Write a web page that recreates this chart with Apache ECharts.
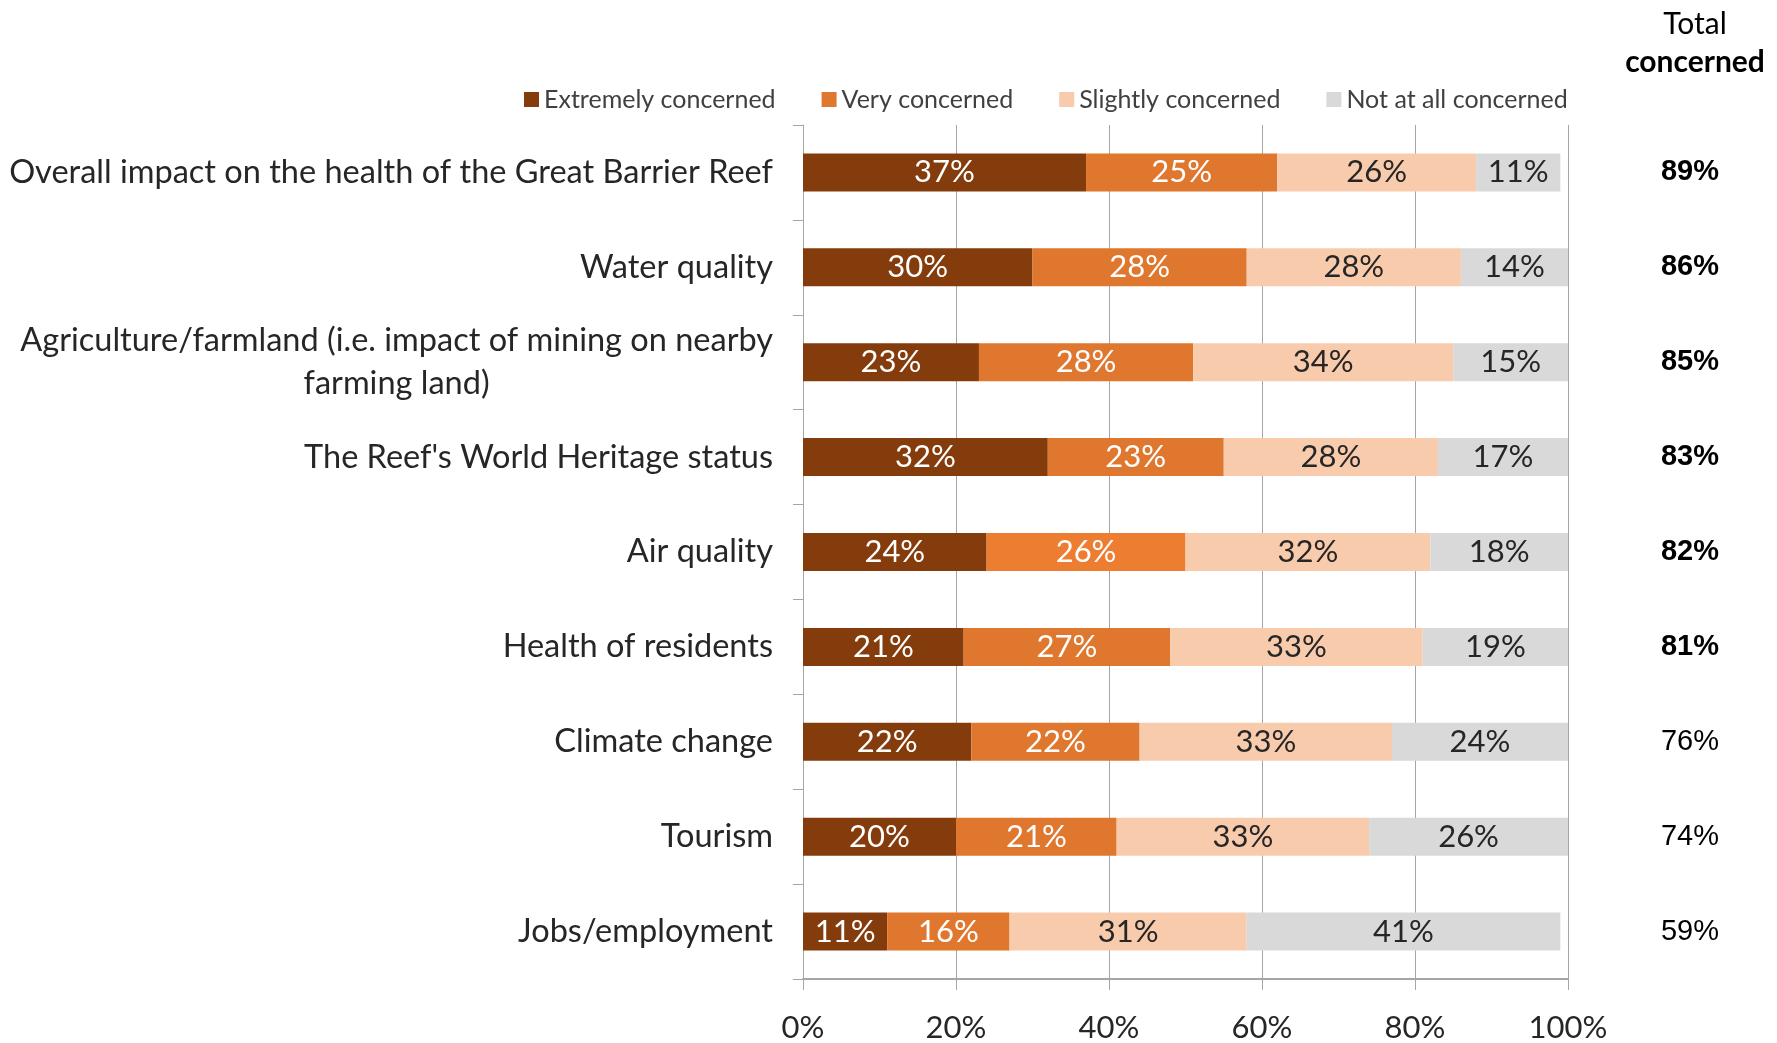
<!DOCTYPE html>
<html>
<head>
<meta charset="utf-8">
<title>Concern about impacts of mining</title>
<script src="https://cdn.jsdelivr.net/npm/echarts@6/dist/echarts.min.js"></script>
<style>
  html, body { margin: 0; padding: 0; background: #ffffff; }
  #chart { width: 1777px; height: 1043px; }
</style>
</head>
<body>
<div id="chart"></div>
<script>
// Survey categories, top to bottom
const categories = [
  "Overall impact on the health of the Great Barrier Reef",
  "Water quality",
  "Agriculture/farmland (i.e. impact of mining on nearby\nfarming land)",
  "The Reef's World Heritage status",
  "Air quality",
  "Health of residents",
  "Climate change",
  "Tourism",
  "Jobs/employment"
];

// Share of respondents (%) per level of concern
const extremelyConcerned = [37, 30, 23, 32, 24, 21, 22, 20, 11];
const veryConcerned      = [25, 28, 28, 23, 26, 27, 22, 21, 16];
const slightlyConcerned  = [26, 28, 34, 28, 32, 33, 33, 33, 31];
const notAtAllConcerned  = [11, 14, 15, 17, 18, 19, 24, 26, 41];

// Total concerned (%) shown in the right-hand column
const totalConcerned = [89, 86, 85, 83, 82, 81, 76, 74, 59];

// X axis ticks (%)
const xTicks = [0, 20, 40, 60, 80, 100];

const seriesNames = ["Extremely concerned", "Very concerned", "Slightly concerned", "Not at all concerned"];
const seriesColors = ["#843C0C", "#E0772E", "#F8CBAD", "#D9D9D9"];
const labelColors = ["#FFFFFF", "#FFFFFF", "#262626", "#262626"];

const LATO = "Lato, 'Noto Sans', sans-serif";
const ARIAL = "'Liberation Sans', Arial, sans-serif";

const chart = echarts.init(document.getElementById('chart'), null, { renderer: 'canvas' });

function makeSeries(idx, values) {
  const data = values.map((v, i) => {
    // the Air quality "very concerned" segment is a brighter orange
    if (idx === 1 && i === 4) {
      return { value: v, itemStyle: { color: "#ED7D31" } };
    }
    return v;
  });
  return {
    name: seriesNames[idx],
    type: 'bar',
    stack: 'total',
    barWidth: 38,
    data: data,
    itemStyle: { color: seriesColors[idx] },
    label: {
      show: true,
      position: 'inside',
      formatter: p => p.value + '%',
      color: labelColors[idx],
      fontFamily: LATO,
      fontSize: 31
    },
    emphasis: { disabled: true },
    animation: false
  };
}

const option = {
  backgroundColor: '#ffffff',
  animation: false,
  title: {
    text: '{a|Total}\n{b|concerned}',
    left: 1690,
    top: 1,
    textAlign: 'center',
    textStyle: {
      fontWeight: 'normal',
      rich: {
        a: { fontFamily: LATO, fontSize: 30, fontWeight: 'normal', color: '#000000', lineHeight: 37, align: 'center' },
        b: { fontFamily: LATO, fontSize: 30, fontWeight: 'bold', color: '#000000', lineHeight: 38, align: 'center' }
      }
    }
  },
  legend: {
    left: 519,
    top: 82,
    itemWidth: 15,
    itemHeight: 15,
    itemGap: 46,
    icon: 'rect',
    selectedMode: false,
    textStyle: { fontFamily: LATO, fontSize: 25, color: '#404040' },
    data: seriesNames
  },
  grid: {
    left: 803,
    right: 209,
    top: 125,
    bottom: 59,
    containLabel: false
  },
  xAxis: {
    type: 'value',
    min: xTicks[0],
    max: xTicks[xTicks.length - 1],
    interval: xTicks[1] - xTicks[0],
    axisLine: { show: true, lineStyle: { color: '#A6A6A6', width: 2 } },
    axisTick: { show: true, length: 11, lineStyle: { color: '#A6A6A6', width: 1 } },
    splitLine: { show: true, lineStyle: { color: '#A6A6A6', width: 1 } },
    axisLabel: {
      formatter: v => v + '%',
      fontFamily: LATO,
      fontSize: 31,
      color: '#262626',
      margin: 33
    }
  },
  yAxis: [
    {
      type: 'category',
      inverse: true,
      data: categories,
      axisLine: { show: true, lineStyle: { color: '#A6A6A6', width: 1 } },
      axisTick: { show: true, length: 10, lineStyle: { color: '#A6A6A6' } },
      axisLabel: {
        margin: 30,
        formatter: v => v.split('\n').map(s => '{c|' + s + '}').join('\n'),
        rich: {
          c: { fontFamily: LATO, fontSize: 32.5, color: '#262626', align: 'center', lineHeight: 43 }
        }
      }
    },
    {
      type: 'category',
      inverse: true,
      position: 'right',
      data: categories,
      axisLine: { show: false },
      axisTick: { show: false },
      axisLabel: {
        margin: 122,
        align: 'center',
        formatter: (v, i) => {
          const t = totalConcerned[i];
          return (t >= 80 ? '{b|' : '{n|') + t + '%}';
        },
        rich: {
          b: { fontFamily: ARIAL, fontSize: 29, fontWeight: 'bold', color: '#000000' },
          n: { fontFamily: ARIAL, fontSize: 29, color: '#000000' }
        }
      }
    }
  ],
  series: [
    makeSeries(0, extremelyConcerned),
    makeSeries(1, veryConcerned),
    makeSeries(2, slightlyConcerned),
    makeSeries(3, notAtAllConcerned)
  ]
};

chart.setOption(option);
</script>
</body>
</html>
